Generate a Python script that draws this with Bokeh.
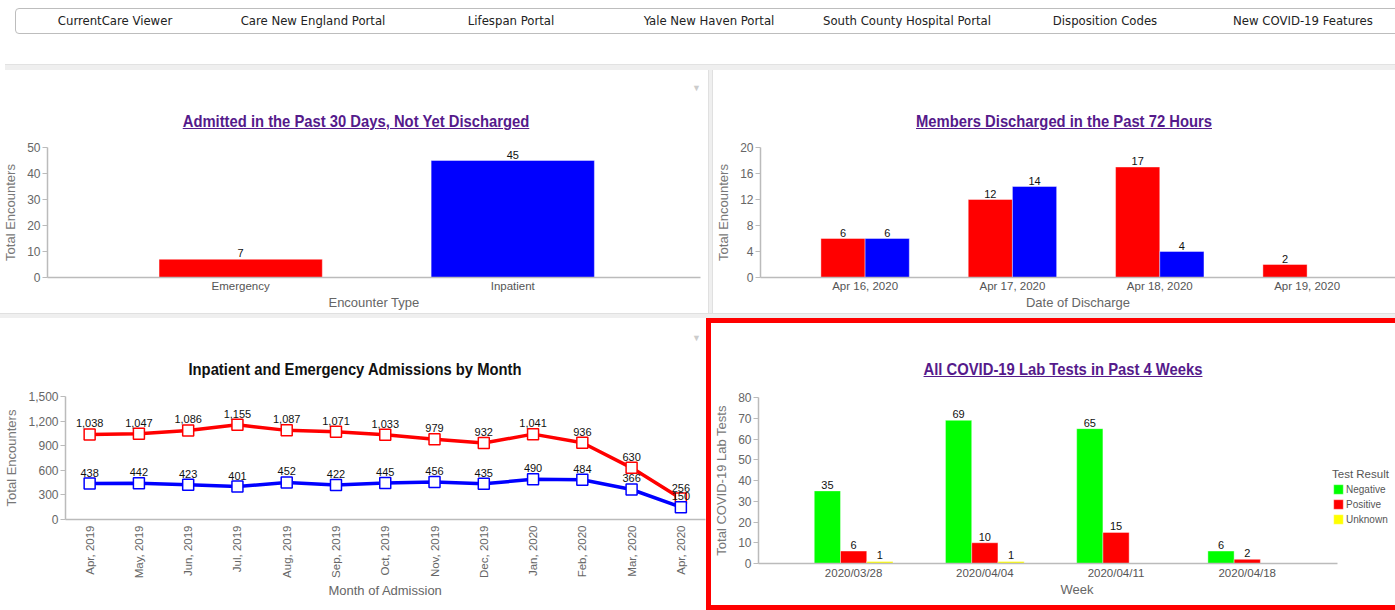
import numpy as np
from bokeh.plotting import figure
from bokeh.models import (Range1d, FixedTicker, NumeralTickFormatter, Div, Legend,
                          LegendItem, ColumnDataSource)
from bokeh.layouts import row, column
from bokeh.embed import file_html
from bokeh.resources import INLINE
from bokeh.core.properties import value

# ---------------- data ----------------
nav_links = ["CurrentCare Viewer", "Care New England Portal", "Lifespan Portal",
             "Yale New Haven Portal", "South County Hospital Portal",
             "Disposition Codes", "New COVID-19 Features"]

enc_types = ["Emergency", "Inpatient"]
enc_counts = [7, 45]
enc_colors = ["#ff0000", "#0000ff"]

dis_dates = ["Apr 16, 2020", "Apr 17, 2020", "Apr 18, 2020", "Apr 19, 2020"]
dis_emergency = [6, 12, 17, 2]
dis_inpatient = [6, 14, 4, None]

months = ["Apr, 2019", "May, 2019", "Jun, 2019", "Jul, 2019", "Aug, 2019",
          "Sep, 2019", "Oct, 2019", "Nov, 2019", "Dec, 2019", "Jan, 2020",
          "Feb, 2020", "Mar, 2020", "Apr, 2020"]
adm_emergency = [1038, 1047, 1086, 1155, 1087, 1071, 1033, 979, 932, 1041, 936, 630, 256]
adm_inpatient = [438, 442, 423, 401, 452, 422, 445, 456, 435, 490, 484, 366, 150]

weeks = ["2020/03/28", "2020/04/04", "2020/04/11", "2020/04/18"]
lab_negative = [35, 69, 65, 6]
lab_positive = [6, 10, 15, 2]
lab_unknown = [1, 1, None, None]
lab_series = ["Negative", "Positive", "Unknown"]

# ---------------- styles ----------------
REG = "'Liberation Sans', Arial, sans-serif"
NAVFONT = "'DejaVu Sans Condensed', 'DejaVu Sans', sans-serif"
PURPLE = "#551a8b"


def make_fig(w, h, xr, yr, left, right, top, bottom):
    p = figure(width=w, height=h, x_range=Range1d(*xr), y_range=Range1d(*yr),
               output_backend="svg", toolbar_location=None,
               min_border_left=left, min_border_right=right,
               min_border_top=top, min_border_bottom=bottom, margin=0)
    p.outline_line_color = None
    p.grid.visible = False
    p.background_fill_color = "white"
    p.border_fill_color = "white"
    for ax in (p.xaxis[0], p.yaxis[0]):
        ax.axis_line_color = "#bbbbbb"
        ax.axis_line_width = 1.5
        ax.minor_tick_line_color = None
        ax.axis_label_text_font_style = "normal"
    ya = p.yaxis[0]
    ya.major_tick_line_color = "#bbbbbb"
    ya.major_tick_out = 5
    ya.major_tick_in = 0
    ya.major_label_standoff = 2
    ya.major_label_text_font = REG
    ya.major_label_text_font_size = "12px"
    ya.major_label_text_color = "#666666"
    ya.axis_label_text_font = REG
    ya.axis_label_text_font_size = "13px"
    ya.axis_label_text_color = "#777777"
    ya.axis_label_standoff = 6
    xa = p.xaxis[0]
    xa.major_tick_line_color = None
    xa.major_tick_out = 0
    xa.major_tick_in = 0
    xa.major_label_standoff = 2
    xa.major_label_text_font = REG
    xa.major_label_text_font_size = "11.5px"
    xa.major_label_text_color = "#555555"
    xa.axis_label_text_font = REG
    xa.axis_label_text_font_size = "13px"
    xa.axis_label_text_color = "#666666"
    xa.axis_label_standoff = 0
    return p


def set_cats(p, labels):
    p.xaxis[0].ticker = FixedTicker(ticks=list(range(len(labels))))
    p.xaxis[0].major_label_overrides = {i: s for i, s in enumerate(labels)}


def value_labels(p, xs, ys, dy=-2, size="11px"):
    pts = [(x, y) for x, y in zip(xs, ys) if y is not None]
    src = ColumnDataSource(dict(x=[a for a, _ in pts], y=[b for _, b in pts],
                                t=[f"{b:,}" for _, b in pts]))
    p.text(x="x", y="y", text="t", source=src, text_align="center",
           text_baseline="bottom", y_offset=dy, text_font=value(REG),
           text_font_size=size, text_color="#111111")


def bars(p, xs, tops, width, color):
    pts = [(x, t) for x, t in zip(xs, tops) if t is not None]
    src = ColumnDataSource(dict(x=[a for a, _ in pts], top=[b for _, b in pts]))
    return p.vbar(x="x", top="top", width=width, source=src, fill_color=color,
                  line_color="#ffffff", line_alpha=0.4, line_width=1)


def title_div(text, width, height, cx, cy, color, underline, arrow=None):
    deco = "underline" if underline else "none"
    arrow_html = ""
    if arrow is not None:
        ax, ay = arrow
        arrow_html = (f'<div style="position:absolute;left:{ax - 5}px;top:{ay - 5}px;'
                      f'font-size:9px;line-height:10px;color:#cccccc;">&#9660;</div>')
    html = (f'<div style="position:relative;width:{width}px;height:{height}px;overflow:hidden;">'
            f'<div style="position:absolute;left:{cx}px;top:{cy - 11}px;'
            f'transform:translateX(-50%) scaleX(0.87);'
            f'white-space:nowrap;line-height:22px;font-family:{REG};font-size:17px;'
            f'font-weight:bold;color:{color};text-decoration:{deco};">{text}</div>{arrow_html}</div>')
    return Div(text=html, width=width, height=height, margin=0)


def block(width, height, color, extra=None):
    st = {"background-color": color, "overflow": "hidden"}
    if extra:
        st.update(extra)
    return Div(text="", width=width, height=height, margin=0, styles=st)


W = 1395
# ---------------- nav bar ----------------
nav_items = "".join(f'<div style="width:198px;flex:none;text-align:center;">{t}</div>' for t in nav_links)
nav_html = (f'<div style="position:relative;width:{W}px;height:70px;overflow:hidden;">'
            f'<div style="position:absolute;left:15px;top:8px;width:1420px;height:26px;'
            f'border:1px solid #bdbdbd;border-radius:4px;display:flex;align-items:center;'
            f'font-family:{NAVFONT};font-size:13px;color:#222222;">{nav_items}</div>'
            f'<div style="position:absolute;left:5px;top:64px;width:{W}px;height:6px;'
            f'background:#efefef;border-top:1px solid #e2e2e2;box-sizing:border-box;"></div></div>')
nav = Div(text=nav_html, width=W, height=70, margin=0)

# ---------------- chart 1 ----------------
t1 = title_div("Admitted in the Past 30 Days, Not Yet Discharged", 708, 66, 356, 52, PURPLE, True,
               arrow=(697, 18))
p1 = make_fig(708, 177, (-0.71, 1.69), (0, 50), 47, 8, 11, 36)
x1 = list(range(len(enc_types)))
src1 = ColumnDataSource(dict(x=x1, top=enc_counts, color=enc_colors))
p1.vbar(x="x", top="top", width=0.6, source=src1, fill_color="color",
        line_color="#ffffff", line_alpha=0.4)
value_labels(p1, x1, enc_counts)
set_cats(p1, enc_types)
p1.yaxis[0].ticker = FixedTicker(ticks=[0, 10, 20, 30, 40, 50])
p1.yaxis[0].axis_label = "Total Encounters"
p1.xaxis[0].axis_label = "Encounter Type"

# ---------------- chart 2 ----------------
t2 = title_div("Members Discharged in the Past 72 Hours", 682, 66, 351, 52, PURPLE, True)
p2 = make_fig(682, 177, (-0.71, 3.6), (0, 20), 44, 0, 11, 36)
x2 = np.arange(len(dis_dates))
bars(p2, x2 - 0.15, dis_emergency, 0.3, "#ff0000")
bars(p2, x2 + 0.15, dis_inpatient, 0.3, "#0000ff")
value_labels(p2, x2 - 0.15, dis_emergency)
value_labels(p2, x2 + 0.15, dis_inpatient)
set_cats(p2, dis_dates)
p2.yaxis[0].ticker = FixedTicker(ticks=[0, 4, 8, 12, 16, 20])
p2.yaxis[0].axis_label = "Total Encounters"
p2.xaxis[0].axis_label = "Date of Discharge"

# ---------------- chart 3 ----------------
t3 = title_div("Inpatient and Emergency Admissions by Month", 706, 66, 355, 52, "#111111", False,
               arrow=(697, 20))
p3 = make_fig(706, 226, (-0.49, 12.5), (0, 1500), 65, 1, 12, 91)
x3 = list(range(len(months)))
for ys, col in ((adm_emergency, "#ff0000"), (adm_inpatient, "#0000ff")):
    p3.line(x3, ys, line_color=col, line_width=3.5)
    p3.scatter(x3, ys, marker="square", size=11, fill_color="white", line_color=col, line_width=1.5)
    value_labels(p3, x3, ys, dy=-7)
set_cats(p3, months)
p3.xaxis[0].major_label_orientation = np.pi / 2
p3.xaxis[0].major_label_text_font_size = "11.5px"
p3.xaxis[0].major_label_text_color = "#666666"
p3.xaxis[0].major_label_standoff = 6
p3.xaxis[0].axis_label_standoff = 2
p3.yaxis[0].ticker = FixedTicker(ticks=[0, 300, 600, 900, 1200, 1500])
p3.yaxis[0].formatter = NumeralTickFormatter(format="0,0")
p3.yaxis[0].axis_label = "Total Encounters"
p3.xaxis[0].axis_label = "Month of Admission"

# ---------------- chart 4 ----------------
t4 = title_div("All COVID-19 Lab Tests in Past 4 Weeks", 684, 61, 352, 47, PURPLE, True)
# frame runs to the right edge so the legend can sit beside the bars; the axis line stops at bounds
p4 = make_fig(684, 221, (-0.725, 4.13), (0, 80), 46, 0, 13, 42)
p4.xaxis[0].bounds = (-0.725, 3.69)
x4 = np.arange(len(weeks))
r_neg = bars(p4, x4 - 0.2, lab_negative, 0.2, "#00ff00")
r_pos = bars(p4, x4, lab_positive, 0.2, "#ff0000")
r_unk = bars(p4, x4 + 0.2, lab_unknown, 0.2, "#ffff00")
value_labels(p4, x4 - 0.2, lab_negative)
value_labels(p4, x4, lab_positive)
value_labels(p4, x4 + 0.2, lab_unknown)
set_cats(p4, weeks)
p4.xaxis[0].major_label_standoff = 3
p4.yaxis[0].ticker = FixedTicker(ticks=list(range(0, 81, 10)))
p4.yaxis[0].axis_label = "Total COVID-19 Lab Tests"
p4.xaxis[0].axis_label = "Week"
legend = Legend(items=[LegendItem(label=lab_series[0], renderers=[r_neg]),
                       LegendItem(label=lab_series[1], renderers=[r_pos]),
                       LegendItem(label=lab_series[2], renderers=[r_unk])],
                location=(574, 38), title="Test Result")
legend.title_text_font = REG
legend.title_text_font_size = "11.5px"
legend.title_text_font_style = "normal"
legend.title_text_color = "#555555"
legend.title_standoff = 3
legend.label_text_font = REG
legend.label_text_font_size = "10px"
legend.label_text_color = "#555555"
legend.glyph_width = 12
legend.glyph_height = 12
legend.label_height = 12
legend.label_standoff = 2
legend.spacing = 3
legend.padding = 0
legend.margin = 0
legend.border_line_color = None
legend.background_fill_alpha = 0
p4.add_layout(legend)

# ---------------- layout ----------------
vsep = block(5, 243, "#efefef", {"border-left": "1px solid #e0e0e0", "border-right": "1px solid #e0e0e0",
                                 "box-sizing": "border-box"})
hsep = block(W, 5, "#efefef", {"border-top": "1px solid #e0e0e0", "box-sizing": "border-box"})
red_left = block(5, 292, "#ff0000")
red_top = block(684, 5, "#ff0000")
red_bottom = block(684, 5, "#ff0000")

top_row = row(column(t1, p1, spacing=0), vsep, column(t2, p2, spacing=0), spacing=0)
bottom_row = row(column(t3, p3, spacing=0), red_left,
                 column(red_top, t4, p4, red_bottom, spacing=0), spacing=0)
layout = column(nav, top_row, hsep, bottom_row, spacing=0)

open("out.html", "w").write(file_html(layout, INLINE))
